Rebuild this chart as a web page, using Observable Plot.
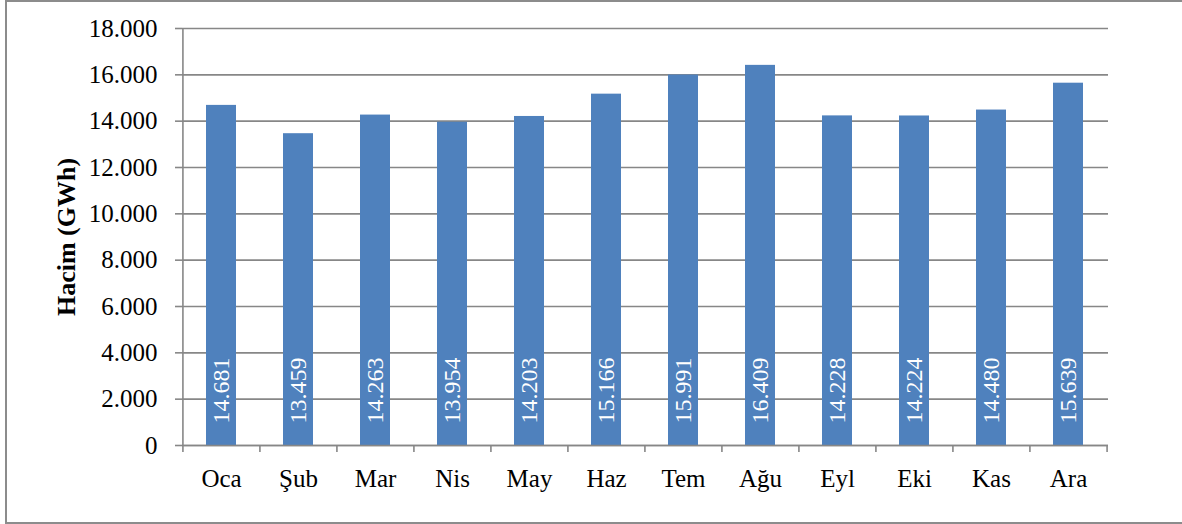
<!DOCTYPE html>
<html>
<head>
<meta charset="utf-8">
<script src="https://cdn.jsdelivr.net/npm/d3@7"></script>
<script src="https://cdn.jsdelivr.net/npm/@observablehq/plot@0.6"></script>
<style>
  html, body { margin: 0; padding: 0; background: #fff; }
  #wrap { position: relative; width: 1182px; height: 524px; overflow: hidden; }
  #frame { position: absolute; left: 5px; top: 0px; width: 1190px; height: 520px;
           border: 2px solid #8c8c8c; box-sizing: content-box; pointer-events: none; }
  svg, svg text { font-family: "Liberation Serif", "Times New Roman", serif; }
</style>
</head>
<body>
<div id="wrap"><div id="frame"></div></div>
<script>
const months = ["Oca", "Şub", "Mar", "Nis", "May", "Haz", "Tem", "Ağu", "Eyl", "Eki", "Kas", "Ara"];
const volumes = [14681, 13459, 14263, 13954, 14203, 15166, 15991, 16409, 14228, 14224, 14480, 15639];
const yTicks = [0, 2000, 4000, 6000, 8000, 10000, 12000, 14000, 16000, 18000];
const yTitle = "Hacim (GWh)";

const data = months.map((m, i) => ({month: m, value: volumes[i]}));
const trFmt = d3.formatLocale({decimal: ",", thousands: ".", grouping: [3], currency: ["", "₺"]}).format(",d");

const W = 1182, H = 524;
const mL = 182, mR = 74, mT = 28, mB = 79;
const step = (W - mL - mR) / months.length;
const serif = "Liberation Serif";

const chart = Plot.plot({
  width: W,
  height: H,
  marginLeft: mL,
  marginRight: mR,
  marginTop: mT,
  marginBottom: mB,
  style: {fontFamily: serif, background: "transparent", overflow: "visible"},
  x: {domain: months, paddingInner: 0.605, paddingOuter: 0.3025, label: null},
  y: {domain: [0, 18000], label: null},
  marks: [
    Plot.gridY(yTicks, {stroke: "#878787", strokeOpacity: 1, strokeWidth: 1.6}),
    Plot.barY(data, {x: "month", y: "value", fill: "#4F81BD"}),
    Plot.ruleX([months[0]], {dx: -step / 2, stroke: "#878787", strokeWidth: 1.6}),
    Plot.ruleY([0], {stroke: "#878787", strokeWidth: 1.6}),
    Plot.ruleX(months, {x: d => d, dx: -step / 2, y1: 0, y2: -7 * 18000 / (H - mT - mB), stroke: "#878787", strokeWidth: 1.6}),
    Plot.ruleX([months[months.length - 1]], {x: d => d, dx: step / 2, y1: 0, y2: -7 * 18000 / (H - mT - mB), stroke: "#878787", strokeWidth: 1.6}),
    Plot.axisY(yTicks, {tickSize: 7, tickPadding: 18, tickFormat: trFmt, fontSize: 25, fontFamily: serif, fill: "#000", stroke: "#878787", strokeWidth: 1.6, label: null}),
    Plot.axisX({tickSize: 0, tickPadding: 24, fontSize: 25, fontFamily: serif, fill: "#000", label: null}),
    Plot.text(data, {x: "month", y: 0, text: d => trFmt(d.value), rotate: -90, textAnchor: "start", dy: -22, fill: "#fff", fontSize: 24, fontFamily: serif}),
    Plot.text([yTitle], {frameAnchor: "left", textAnchor: "middle", text: d => d, rotate: -90, dx: -116, fontSize: 26, fontWeight: "bold", fontFamily: serif, fill: "#000"})
  ]
});

document.getElementById("wrap").prepend(chart);
</script>
</body>
</html>
